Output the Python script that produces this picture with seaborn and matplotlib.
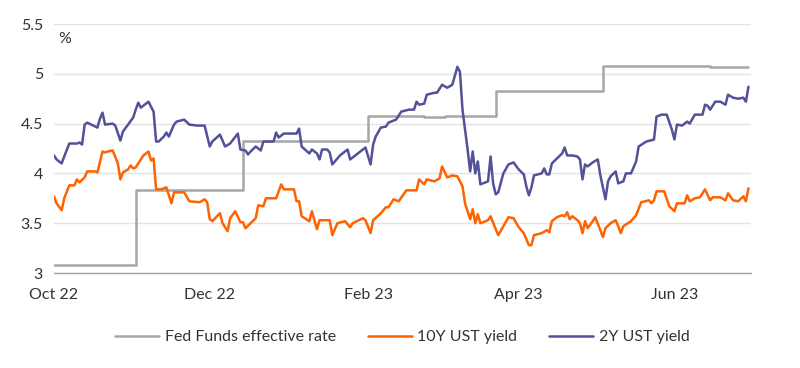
import matplotlib
matplotlib.use("Agg")
import matplotlib.pyplot as plt
import pandas as pd
import seaborn as sns

# 2Y UST yield
dates_2y = [
    "2022-10-01", "2022-10-02", "2022-10-04", "2022-10-05", "2022-10-07", "2022-10-10", "2022-10-11",
    "2022-10-12", "2022-10-13", "2022-10-14", "2022-10-18", "2022-10-19", "2022-10-20", "2022-10-21",
    "2022-10-24", "2022-10-25", "2022-10-27", "2022-10-28", "2022-10-30", "2022-11-01", "2022-11-02",
    "2022-11-03", "2022-11-04", "2022-11-07", "2022-11-09", "2022-11-10", "2022-11-11", "2022-11-13",
    "2022-11-14", "2022-11-15", "2022-11-17", "2022-11-18", "2022-11-21", "2022-11-23", "2022-11-26",
    "2022-11-29", "2022-12-01", "2022-12-02", "2022-12-05", "2022-12-07", "2022-12-09", "2022-12-12",
    "2022-12-13", "2022-12-15", "2022-12-16", "2022-12-17", "2022-12-19", "2022-12-21", "2022-12-22",
    "2022-12-26", "2022-12-27", "2022-12-28", "2022-12-30", "2023-01-04", "2023-01-05", "2023-01-06",
    "2023-01-09", "2023-01-10", "2023-01-12", "2023-01-13", "2023-01-14", "2023-01-16", "2023-01-17",
    "2023-01-18", "2023-01-21", "2023-01-24", "2023-01-25", "2023-01-29", "2023-01-31", "2023-02-02",
    "2023-02-03", "2023-02-04", "2023-02-06", "2023-02-08", "2023-02-09", "2023-02-12", "2023-02-14",
    "2023-02-17", "2023-02-19", "2023-02-20", "2023-02-21", "2023-02-23", "2023-02-24", "2023-02-27",
    "2023-02-28", "2023-03-02", "2023-03-04", "2023-03-06", "2023-03-08", "2023-03-09", "2023-03-10",
    "2023-03-12", "2023-03-13", "2023-03-14", "2023-03-15", "2023-03-16", "2023-03-17", "2023-03-20",
    "2023-03-21", "2023-03-22", "2023-03-23", "2023-03-24", "2023-03-26", "2023-03-28", "2023-03-30",
    "2023-04-01", "2023-04-03", "2023-04-04", "2023-04-05", "2023-04-06", "2023-04-07", "2023-04-10",
    "2023-04-11", "2023-04-12", "2023-04-13", "2023-04-14", "2023-04-16", "2023-04-18", "2023-04-19",
    "2023-04-20", "2023-04-22", "2023-04-24", "2023-04-25", "2023-04-26", "2023-04-27", "2023-04-28",
    "2023-04-30", "2023-05-02", "2023-05-03", "2023-05-05", "2023-05-06", "2023-05-07", "2023-05-09",
    "2023-05-10", "2023-05-12", "2023-05-13", "2023-05-15", "2023-05-17", "2023-05-18", "2023-05-21",
    "2023-05-24", "2023-05-25", "2023-05-27", "2023-05-29", "2023-05-31", "2023-06-01", "2023-06-02",
    "2023-06-04", "2023-06-05", "2023-06-06", "2023-06-07", "2023-06-09", "2023-06-11", "2023-06-12",
    "2023-06-13", "2023-06-14", "2023-06-15", "2023-06-17", "2023-06-19", "2023-06-21", "2023-06-22",
    "2023-06-24", "2023-06-26", "2023-06-28", "2023-06-29", "2023-06-30",
]
yield_2y = [
    4.18, 4.14, 4.10, 4.17, 4.30, 4.30, 4.31,
    4.29, 4.49, 4.51, 4.46, 4.55, 4.61, 4.49,
    4.50, 4.48, 4.33, 4.42, 4.49, 4.56, 4.64,
    4.71, 4.66, 4.72, 4.62, 4.32, 4.32, 4.37,
    4.41, 4.37, 4.49, 4.52, 4.54, 4.49, 4.48,
    4.48, 4.27, 4.32, 4.39, 4.27, 4.30, 4.40,
    4.24, 4.23, 4.19, 4.22, 4.27, 4.23, 4.32,
    4.32, 4.41, 4.36, 4.40, 4.40, 4.45, 4.27,
    4.20, 4.24, 4.20, 4.14, 4.24, 4.24, 4.21,
    4.09, 4.18, 4.24, 4.14, 4.22, 4.26, 4.09,
    4.29, 4.37, 4.46, 4.47, 4.51, 4.54, 4.62,
    4.64, 4.64, 4.72, 4.69, 4.70, 4.79, 4.81,
    4.81, 4.89, 4.86, 4.89, 5.07, 5.02, 4.64,
    4.24, 4.02, 4.22, 4.00, 4.12, 3.89, 3.92,
    4.17, 3.90, 3.79, 3.81, 4.00, 4.09, 4.11,
    4.04, 3.99, 3.87, 3.78, 3.86, 3.98, 4.00,
    4.05, 3.99, 3.99, 4.10, 4.15, 4.20, 4.26,
    4.18, 4.18, 4.17, 4.14, 3.94, 4.09, 4.07,
    4.11, 4.14, 3.98, 3.74, 3.92, 3.97, 4.02,
    3.90, 3.92, 4.00, 4.00, 4.12, 4.27, 4.32,
    4.34, 4.57, 4.59, 4.59, 4.44, 4.34, 4.49,
    4.48, 4.50, 4.52, 4.50, 4.59, 4.59, 4.59,
    4.69, 4.68, 4.64, 4.72, 4.72, 4.69, 4.79,
    4.76, 4.75, 4.76, 4.72, 4.87,
]

# 10Y UST yield
dates_10y = [
    "2022-10-01", "2022-10-02", "2022-10-04", "2022-10-05", "2022-10-07", "2022-10-09", "2022-10-10",
    "2022-10-11", "2022-10-13", "2022-10-14", "2022-10-17", "2022-10-18", "2022-10-20", "2022-10-21",
    "2022-10-22", "2022-10-24", "2022-10-26", "2022-10-27", "2022-10-28", "2022-10-30", "2022-10-31",
    "2022-11-01", "2022-11-02", "2022-11-04", "2022-11-05", "2022-11-07", "2022-11-08", "2022-11-09",
    "2022-11-10", "2022-11-12", "2022-11-14", "2022-11-16", "2022-11-17", "2022-11-21", "2022-11-23",
    "2022-11-27", "2022-11-29", "2022-11-30", "2022-12-01", "2022-12-02", "2022-12-05", "2022-12-06",
    "2022-12-08", "2022-12-09", "2022-12-11", "2022-12-13", "2022-12-14", "2022-12-15", "2022-12-17",
    "2022-12-19", "2022-12-20", "2022-12-22", "2022-12-23", "2022-12-27", "2022-12-29", "2022-12-30",
    "2023-01-03", "2023-01-04", "2023-01-05", "2023-01-06", "2023-01-09", "2023-01-10", "2023-01-12",
    "2023-01-13", "2023-01-17", "2023-01-18", "2023-01-20", "2023-01-23", "2023-01-25", "2023-01-26",
    "2023-01-30", "2023-01-31", "2023-02-02", "2023-02-03", "2023-02-06", "2023-02-08", "2023-02-09",
    "2023-02-11", "2023-02-13", "2023-02-16", "2023-02-20", "2023-02-21", "2023-02-23", "2023-02-24",
    "2023-02-27", "2023-03-01", "2023-03-02", "2023-03-04", "2023-03-06", "2023-03-08", "2023-03-10",
    "2023-03-11", "2023-03-12", "2023-03-13", "2023-03-14", "2023-03-15", "2023-03-16", "2023-03-17",
    "2023-03-20", "2023-03-21", "2023-03-23", "2023-03-24", "2023-03-26", "2023-03-28", "2023-03-30",
    "2023-04-01", "2023-04-03", "2023-04-05", "2023-04-06", "2023-04-07", "2023-04-10", "2023-04-12",
    "2023-04-13", "2023-04-14", "2023-04-16", "2023-04-18", "2023-04-19", "2023-04-20", "2023-04-21",
    "2023-04-22", "2023-04-24", "2023-04-25", "2023-04-26", "2023-04-27", "2023-04-28", "2023-04-30",
    "2023-05-01", "2023-05-03", "2023-05-04", "2023-05-05", "2023-05-07", "2023-05-09", "2023-05-10",
    "2023-05-11", "2023-05-12", "2023-05-15", "2023-05-17", "2023-05-19", "2023-05-22", "2023-05-23",
    "2023-05-24", "2023-05-25", "2023-05-28", "2023-05-30", "2023-06-01", "2023-06-02", "2023-06-05",
    "2023-06-06", "2023-06-07", "2023-06-09", "2023-06-11", "2023-06-13", "2023-06-15", "2023-06-16",
    "2023-06-19", "2023-06-21", "2023-06-22", "2023-06-24", "2023-06-26", "2023-06-28", "2023-06-29",
    "2023-06-30",
]
yield_10y = [
    3.77, 3.70, 3.63, 3.75, 3.88, 3.88, 3.94,
    3.91, 3.96, 4.02, 4.02, 4.01, 4.22, 4.21,
    4.22, 4.23, 4.10, 3.94, 4.01, 4.04, 4.08,
    4.05, 4.06, 4.14, 4.18, 4.22, 4.13, 4.15,
    3.84, 3.84, 3.86, 3.70, 3.81, 3.81, 3.72,
    3.71, 3.74, 3.71, 3.54, 3.52, 3.60, 3.50,
    3.42, 3.55, 3.62, 3.51, 3.51, 3.45, 3.50,
    3.55, 3.68, 3.67, 3.75, 3.75, 3.89, 3.84,
    3.84, 3.72, 3.72, 3.57, 3.52, 3.62, 3.44,
    3.53, 3.53, 3.38, 3.50, 3.52, 3.46, 3.50,
    3.55, 3.53, 3.40, 3.53, 3.60, 3.66, 3.66,
    3.74, 3.72, 3.83, 3.83, 3.94, 3.89, 3.94,
    3.92, 3.95, 4.07, 3.96, 3.98, 3.97, 3.87,
    3.70, 3.62, 3.54, 3.64, 3.50, 3.59, 3.50,
    3.53, 3.57, 3.44, 3.38, 3.47, 3.56, 3.55,
    3.46, 3.40, 3.28, 3.28, 3.38, 3.40, 3.43,
    3.41, 3.52, 3.56, 3.58, 3.57, 3.61, 3.54,
    3.57, 3.53, 3.50, 3.40, 3.52, 3.45, 3.52,
    3.56, 3.43, 3.36, 3.45, 3.50, 3.53, 3.47,
    3.40, 3.47, 3.52, 3.58, 3.71, 3.73, 3.70,
    3.73, 3.82, 3.82, 3.67, 3.62, 3.70, 3.70,
    3.78, 3.72, 3.75, 3.76, 3.84, 3.73, 3.76,
    3.76, 3.73, 3.80, 3.73, 3.72, 3.77, 3.72,
    3.85,
]

# Fed Funds effective rate (value from each date on)
dates_ff = ["2022-10-01", "2022-11-02", "2022-12-14", "2023-02-01", "2023-02-23",
            "2023-03-03", "2023-03-23", "2023-05-04", "2023-06-15", "2023-06-30"]
fed_funds = [3.08, 3.83, 4.33, 4.58, 4.57, 4.58, 4.83, 5.08, 5.07, 5.07]

tick_dates = ["2022-10-01", "2022-12-01", "2023-02-01", "2023-04-01", "2023-06-01"]
tick_labels = ["Oct 22", "Dec 22", "Feb 23", "Apr 23", "Jun 23"]
y_ticks = [3, 3.5, 4, 4.5, 5, 5.5]
y_labels = ["3", "3.5", "4", "4.5", "5", "5.5"]

df_ff = pd.DataFrame({"date": pd.to_datetime(dates_ff), "value": fed_funds})
df_10y = pd.DataFrame({"date": pd.to_datetime(dates_10y), "value": yield_10y})
df_2y = pd.DataFrame({"date": pd.to_datetime(dates_2y), "value": yield_2y})

sns.set_style("white")
plt.rcParams["font.family"] = ["Lato", "DejaVu Sans"]
text_color = "#333333"
font_size = 11.5

fig = plt.figure(figsize=(8, 3.68), dpi=100)
ax = fig.add_axes([54 / 800, 1 - 273 / 368, 697 / 800, 249 / 368])

sns.lineplot(data=df_ff, x="date", y="value", ax=ax, color="#a6a6a6", lw=1.8,
             drawstyle="steps-post", label="Fed Funds effective rate")
sns.lineplot(data=df_10y, x="date", y="value", ax=ax, color="#ff6200", lw=1.8,
             label="10Y UST yield")
sns.lineplot(data=df_2y, x="date", y="value", ax=ax, color="#525199", lw=1.8,
             label="2Y UST yield")

ax.set_xlim(pd.Timestamp("2022-10-01"), pd.Timestamp("2023-07-01"))
ax.set_ylim(3, 5.5)
ax.set_xticks(pd.to_datetime(tick_dates))
ax.set_xticklabels(tick_labels)
ax.set_yticks(y_ticks)
ax.set_yticklabels(y_labels)
ax.set_xlabel("")
ax.set_ylabel("")

ax.yaxis.grid(True, color="#e3e3e3", lw=1)
ax.set_axisbelow(True)
for side in ["left", "top", "right"]:
    ax.spines[side].set_visible(False)
ax.spines["bottom"].set_color("#a0a0a0")
ax.spines["bottom"].set_linewidth(1)
ax.tick_params(axis="x", length=5, width=1, color="#a0a0a0", pad=6,
               labelsize=font_size, labelcolor=text_color)
ax.tick_params(axis="y", length=0, pad=8, labelsize=font_size, labelcolor=text_color)

ax.annotate("%", xy=(0, 1), xycoords="axes fraction", xytext=(3, -6),
            textcoords="offset points", va="top", ha="left",
            fontsize=font_size, color=text_color)

ax.get_legend().remove()
handles, labels = ax.get_legend_handles_labels()
fig.legend(handles, labels, loc="center", bbox_to_anchor=(0.503, 0.084), ncol=3,
           frameon=False, fontsize=font_size, handlelength=2.75, handletextpad=0.35,
           columnspacing=2.0, labelcolor=text_color)

fig.savefig("out.png", dpi=100)
